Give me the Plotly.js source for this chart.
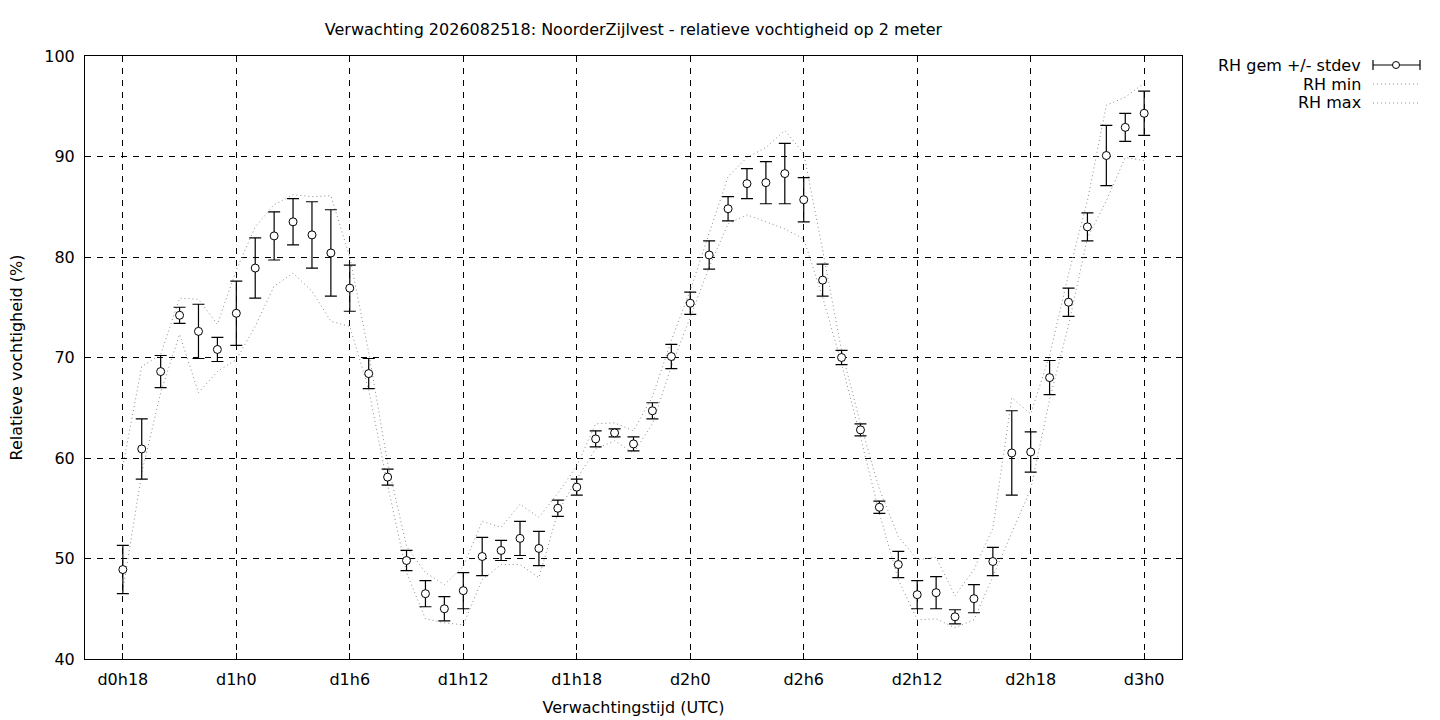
<!DOCTYPE html>
<html>
<head>
<meta charset="utf-8">
<script src="https://cdn.plot.ly/plotly-3.0.1.min.js"></script>
<style>
    html, body { margin: 0; padding: 0; background: #fff; }
    #chart { width: 1440px; height: 720px; }
</style>
</head>
<body>
<div id="chart"></div>
<script>
// forecast hours since d0h0
const hours = [18, 19, 20, 21, 22, 23, 24, 25, 26, 27, 28, 29, 30, 31, 32, 33, 34, 35, 36,
    37, 38, 39, 40, 41, 42, 43, 44, 45, 46, 47, 48, 49, 50, 51, 52, 53, 54, 55,
    56, 57, 58, 59, 60, 61, 62, 63, 64, 65, 66, 67, 68, 69, 70, 71, 72];

const rhMean = [48.9, 60.9, 68.6, 74.2, 72.6, 70.8, 74.4, 78.9, 82.1, 83.5, 82.2, 80.4, 76.9, 68.4,
    58.1, 49.8, 46.5, 45.0, 46.8, 50.2, 50.8, 52.0, 51.0, 55.0, 57.1, 61.9, 62.5, 61.4,
    64.7, 70.1, 75.4, 80.2, 84.8, 87.3, 87.4, 88.3, 85.7, 77.7, 70.0, 62.8, 55.1, 49.4,
    46.4, 46.6, 44.2, 46.0, 49.7, 60.5, 60.6, 68.0, 75.5, 83.0, 90.1, 92.9, 94.3];

const rhStdev = [2.4, 3.0, 1.6, 0.8, 2.7, 1.2, 3.2, 3.0, 2.4, 2.3, 3.3, 4.3, 2.3, 1.5,
    0.8, 1.0, 1.3, 1.2, 1.8, 1.9, 1.0, 1.7, 1.7, 0.8, 0.8, 0.8, 0.4, 0.7,
    0.8, 1.2, 1.1, 1.4, 1.2, 1.5, 2.1, 3.0, 2.2, 1.6, 0.7, 0.6, 0.6, 1.3,
    1.4, 1.6, 0.7, 1.4, 1.4, 4.2, 2.0, 1.7, 1.4, 1.4, 3.0, 1.4, 2.2];

const rhMin = [46.8, 58.5, 66.5, 72.3, 66.5, 68.6, 69.8, 73.1, 77.1, 78.4, 76.6, 73.6, 73.1, 66.8,
    57.3, 48.6, 44.0, 43.6, 43.4, 47.9, 49.4, 49.4, 48.1, 54.6, 57.9, 60.9, 61.7, 60.5,
    63.4, 69.1, 74.0, 79.0, 83.3, 84.2, 83.5, 82.8, 81.8, 76.0, 69.4, 62.1, 54.5, 47.9,
    43.9, 44.0, 43.1, 43.9, 48.2, 52.5, 56.9, 65.8, 73.2, 81.9, 85.6, 89.9, 89.6];

const rhMax = [59.2, 69.1, 70.3, 75.9, 75.8, 73.3, 78.7, 83.0, 85.2, 86.2, 86.0, 86.1, 80.0, 70.5,
    59.5, 51.2, 48.6, 47.4, 49.2, 53.7, 53.1, 55.4, 54.1, 56.5, 59.2, 63.4, 63.5, 62.7,
    66.1, 71.7, 76.7, 82.3, 88.0, 89.9, 90.9, 92.6, 90.3, 80.7, 70.7, 63.4, 56.9, 52.2,
    49.9, 50.1, 46.3, 48.9, 53.0, 66.0, 64.4, 70.2, 78.3, 85.6, 95.1, 95.9, 97.3];

const tickHours = [18, 24, 30, 36, 42, 48, 54, 60, 66, 72];
const tickLabels = ["d0h18", "d1h0", "d1h6", "d1h12", "d1h18", "d2h0", "d2h6", "d2h12", "d2h18", "d3h0"];

const legendLabels = ["RH gem +/- stdev", "RH min", "RH max"];

// plot box in pixels
const box = { l: 85, r: 1182, t: 56, b: 659 };
const W = 1440, H = 720;
const px = x => (x - box.l) / (box.r - box.l);
const py = y => (box.b - y) / (box.b - box.t);

const font = "DejaVu Sans, Liberation Sans, sans-serif";
const fs = 16;
const dotted = { color: "#8c8c8c", width: 1, dash: "1px,3px" };

const traces = [
    { x: hours, y: rhMin, type: "scatter", mode: "lines", line: dotted, hoverinfo: "skip" },
    { x: hours, y: rhMax, type: "scatter", mode: "lines", line: dotted, hoverinfo: "skip" },
    {
        x: hours, y: rhMean, type: "scatter", mode: "markers",
        marker: { symbol: "circle", size: 8, color: "#ffffff", line: { color: "#000000", width: 1 } },
        error_y: { type: "data", array: rhStdev, symmetric: true, color: "#000000", thickness: 1.2, width: 6 }
    }
];

// legend drawn by hand so the sample sits right of the text, like gnuplot
const rowY = [65, 84, 103];
const annotations = legendLabels.map((label, i) => ({
    text: label, xref: "paper", yref: "paper",
    x: px(1363), y: py(rowY[i]), xanchor: "right", yanchor: "middle",
    showarrow: false, font: { family: font, size: fs, color: "#000" }
}));

const sx0 = px(1373), sx1 = px(1420), sxm = px(1396);
const shapes = [
    { type: "line", xref: "paper", yref: "paper", x0: sx0, x1: sx1, y0: py(rowY[0]), y1: py(rowY[0]),
      line: { color: "#000", width: 1.2 } },
    { type: "line", xref: "paper", yref: "paper", x0: sx0, x1: sx0, y0: py(rowY[0] - 5), y1: py(rowY[0] + 5),
      line: { color: "#000", width: 1.2 } },
    { type: "line", xref: "paper", yref: "paper", x0: sx1, x1: sx1, y0: py(rowY[0] - 5), y1: py(rowY[0] + 5),
      line: { color: "#000", width: 1.2 } },
    { type: "circle", xref: "paper", yref: "paper", x0: sxm - 3.5 / 1097, x1: sxm + 3.5 / 1097,
      y0: py(rowY[0] + 3.5), y1: py(rowY[0] - 3.5), fillcolor: "#fff", line: { color: "#000", width: 1 } },
    { type: "line", xref: "paper", yref: "paper", x0: sx0, x1: sx1, y0: py(rowY[1]), y1: py(rowY[1]), line: dotted },
    { type: "line", xref: "paper", yref: "paper", x0: sx0, x1: sx1, y0: py(rowY[2]), y1: py(rowY[2]), line: dotted }
];

const axisCommon = {
    showline: true, mirror: "ticks", linecolor: "#000", linewidth: 1,
    ticks: "inside", ticklen: 6, tickcolor: "#000",
    showgrid: true, gridcolor: "#000", gridwidth: 1, griddash: "6px,6px",
    zeroline: false, tickfont: { family: font, size: fs, color: "#000" }
};

const layout = {
    width: W, height: H,
    paper_bgcolor: "#fff", plot_bgcolor: "#fff",
    margin: { l: box.l, r: W - box.r, t: box.t, b: H - box.b },
    showlegend: false,
    font: { family: font, size: fs, color: "#000" },
    title: {
        text: "Verwachting 2026082518: NoorderZijlvest - relatieve vochtigheid op 2 meter",
        xref: "paper", x: 0.5, yref: "container", y: 1 - 29 / H, yanchor: "middle",
        font: { family: font, size: fs, color: "#000" }
    },
    xaxis: Object.assign({}, axisCommon, {
        range: [16, 74], tickvals: tickHours, ticktext: tickLabels, ticklabelstandoff: 6,
        title: { text: "Verwachtingstijd (UTC)", standoff: 13, font: { family: font, size: fs } }
    }),
    yaxis: Object.assign({}, axisCommon, {
        range: [40, 100], dtick: 10, ticklabelstandoff: 6,
        title: { text: "Relatieve vochtigheid (%)", standoff: 17, font: { family: font, size: fs } }
    }),
    annotations, shapes
};

Plotly.newPlot("chart", traces, layout, { displayModeBar: false, staticPlot: true });
</script>
</body>
</html>
